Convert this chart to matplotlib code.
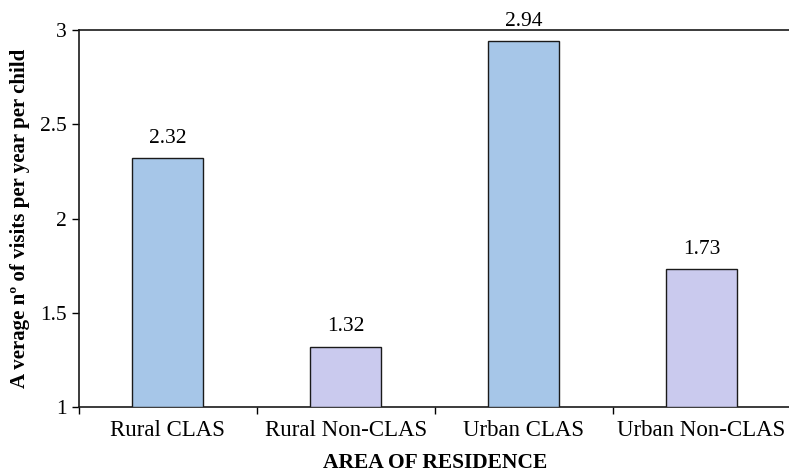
import matplotlib
matplotlib.use("Agg")
import matplotlib.pyplot as plt
import numpy as np

categories = ["Rural CLAS", "Rural Non-CLAS", "Urban CLAS", "Urban Non-CLAS"]
visits = [2.32, 1.32, 2.94, 1.73]
labels = ["2.32", "1.32", "2.94", "1.73"]
colors = ["#A6C6E8", "#CACAEE", "#A6C6E8", "#CACAEE"]
yticks = [1, 1.5, 2, 2.5, 3]
ytick_labels = ["1", "1.5", "2", "2.5", "3"]

plt.rcParams["font.family"] = ["Liberation Serif", "DejaVu Serif"]

fig = plt.figure(figsize=(7.89, 4.73), dpi=100)
ax = fig.add_axes([0.100, 0.1395, 0.902, 0.797])

x = np.arange(len(categories))
base = 1.0
ax.bar(x, np.array(visits) - base, bottom=base, width=0.4, color=colors,
       edgecolor="#1a1a1a", linewidth=1.0, zorder=3)

for xi, v, lab in zip(x, visits, labels):
    ax.text(xi, v + 0.055, lab, ha="center", va="bottom", fontsize=15.5)

ax.set_xlim(-0.5, len(categories) - 0.5)
ax.set_ylim(1, 3)
ax.set_yticks(yticks)
ax.set_yticklabels(ytick_labels, fontsize=15.5)

# category labels centered; tick marks at category boundaries
ax.set_xticks(x)
ax.set_xticklabels(categories, fontsize=16.5)
ax.tick_params(axis="x", which="major", length=0, pad=9)
ax.set_xticks(np.arange(len(categories) + 1) - 0.5, minor=True)
ax.tick_params(axis="x", which="minor", length=5, width=1, direction="out")
ax.tick_params(axis="y", length=5, width=1, direction="out", pad=4)

for side in ["left", "bottom", "top"]:
    ax.spines[side].set_linewidth(1.2)
    ax.spines[side].set_color("#1a1a1a")
ax.spines["right"].set_visible(False)

ax.set_xlabel("AREA OF RESIDENCE", fontsize=15.5, fontweight="bold", labelpad=9)
ax.set_ylabel("A verage n\u00ba of visits per year per child", fontsize=15,
              fontweight="bold", labelpad=7)

fig.savefig("out.png", dpi=100)
